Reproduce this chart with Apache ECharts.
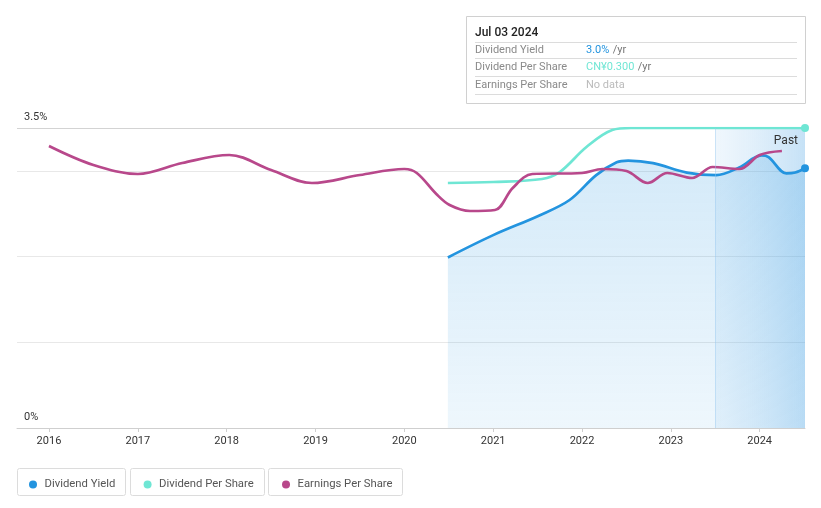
<!DOCTYPE html>
<html><head><meta charset="utf-8">
<script src="https://cdn.jsdelivr.net/npm/echarts@6/dist/echarts.min.js"></script>
<style>html,body{margin:0;padding:0;background:#fff}#c{width:821px;height:508px}</style>
</head><body><div id="c"></div>
<script>
// ---- data ----
const yearTicks = [2016, 2017, 2018, 2019, 2020, 2021, 2022, 2023, 2024];
const yLabelValues = [0, 3.5];
const xMin = 2015.64, xMax = 2024.51;
const pastStart = 2023.5;

const yieldDates  = [2020.49, 2021.0, 2021.52, 2021.86, 2022.16, 2022.39, 2022.52, 2022.8, 2023.18, 2023.51, 2023.77, 2024.02, 2024.1, 2024.3, 2024.4, 2024.51];
const yieldValues = [1.99, 2.25, 2.48, 2.66, 2.95, 3.10, 3.12, 3.09, 2.98, 2.95, 3.04, 3.18, 3.16, 2.97, 2.98, 3.03];

const dpsDates  = [2020.49, 2021.0, 2021.55, 2021.75, 2022.05, 2022.34, 2022.55, 2024.51];
const dpsValues = [0.245, 0.246, 0.249, 0.256, 0.281, 0.298, 0.300, 0.300];

const epsDates  = [2016.0, 2016.5, 2017.0, 2017.5, 2018.03, 2018.5, 2018.96, 2019.5, 2020.0, 2020.14, 2020.36, 2020.51, 2020.74, 2021.02, 2021.22, 2021.44, 2022.0, 2022.23, 2022.5, 2022.74, 2022.96, 2023.24, 2023.47, 2023.77, 2024.0, 2024.25];
const epsValues = [0.564, 0.526, 0.508, 0.530, 0.546, 0.516, 0.490, 0.506, 0.518, 0.510, 0.468, 0.446, 0.434, 0.436, 0.480, 0.508, 0.510, 0.518, 0.514, 0.490, 0.510, 0.500, 0.522, 0.518, 0.546, 0.554];

const seriesNames = ['Dividend Yield', 'Dividend Per Share', 'Earnings Per Share'];
const colors = ['#2394df', '#6fe6d4', '#b8488b'];

const zip = (a, b) => a.map((x, i) => [x, b[i]]);

const chart = echarts.init(document.getElementById('c'), null, {renderer: 'canvas'});
const FONT = 'Roboto';

const option = {
  animation: false,
  textStyle: {fontFamily: FONT},
  grid: {left: 17, right: 16, top: 128, bottom: 80, containLabel: false, outerBoundsMode: 'none'},
  legend: {
    data: seriesNames,
    left: 24, top: 474,
    icon: 'circle', itemWidth: 13, itemHeight: 8, itemGap: 28.3,
    selectedMode: false,
    textStyle: {color: '#555', fontSize: 11.3, fontFamily: FONT}
  },
  xAxis: {
    type: 'value', min: xMin, max: xMax,
    axisLine: {show: true, lineStyle: {color: '#cfcfcf', width: 1}},
    axisTick: {show: true, customValues: yearTicks, length: 4, lineStyle: {color: '#cfcfcf'}},
    axisLabel: {customValues: yearTicks, formatter: v => String(Math.round(v)), color: '#333', fontSize: 11, margin: 8, fontFamily: FONT},
    splitLine: {show: false}
  },
  yAxis: [
    {
      type: 'value', min: 0, max: 3.5, interval: 1,
      axisLine: {show: false}, axisTick: {show: false},
      axisLabel: {
        inside: true, customValues: yLabelValues,
        formatter: v => v + '%', verticalAlign: 'bottom', margin: 7,
        padding: [0, 0, 5, 0], color: '#333', fontSize: 11, fontFamily: FONT
      },
      splitLine: {show: true, lineStyle: {color: ['#e8e8e8', '#e8e8e8', '#e8e8e8', '#e8e8e8', '#d3d3d3'], width: 1}}
    },
    {type: 'value', min: 0, max: 0.3, show: false, splitLine: {show: false}},
    {type: 'value', min: 0, max: 0.6, show: false, splitLine: {show: false}}
  ],
  series: [
    {
      name: seriesNames[0], type: 'line', yAxisIndex: 0,
      data: zip(yieldDates, yieldValues),
      smooth: 0.35, symbol: 'none', z: 2,
      itemStyle: {color: colors[0]},
      lineStyle: {width: 2.7, color: colors[0]},
      areaStyle: {
        color: new echarts.graphic.LinearGradient(0, 0, 0, 1, [
          {offset: 0, color: 'rgba(35,148,223,0.28)'},
          {offset: 1, color: 'rgba(35,148,223,0.11)'}
        ])
      },
      markArea: {
        silent: true,
        itemStyle: {
          color: new echarts.graphic.LinearGradient(0, 0, 1, 0, [
            {offset: 0, color: 'rgba(170,210,242,0.18)'},
            {offset: 1, color: 'rgba(90,170,230,0.35)'}
          ])
        },
        label: {show: true, position: 'insideTopRight', distance: 7, color: '#333', fontSize: 12, fontFamily: FONT},
        data: [[{name: 'Past', xAxis: pastStart}, {xAxis: xMax}]]
      },
      markLine: {
        silent: true, symbol: 'none', label: {show: false},
        lineStyle: {color: 'rgba(150,200,240,0.45)', type: 'solid', width: 1},
        data: [{xAxis: pastStart}]
      },
      markPoint: {
        silent: true, symbol: 'circle', symbolSize: 8, label: {show: false},
        itemStyle: {color: colors[0]},
        data: [{coord: [yieldDates[yieldDates.length - 1], yieldValues[yieldValues.length - 1]]}]
      }
    },
    {
      name: seriesNames[1], type: 'line', yAxisIndex: 1,
      data: zip(dpsDates, dpsValues),
      smooth: 0.35, symbol: 'none', z: 3,
      itemStyle: {color: colors[1]},
      lineStyle: {width: 2.7, color: colors[1]},
      markPoint: {
        silent: true, symbol: 'circle', symbolSize: 8, label: {show: false},
        itemStyle: {color: colors[1]},
        data: [{coord: [dpsDates[dpsDates.length - 1], dpsValues[dpsValues.length - 1]]}]
      }
    },
    {
      name: seriesNames[2], type: 'line', yAxisIndex: 2,
      data: zip(epsDates, epsValues),
      smooth: 0.35, symbol: 'none', z: 4,
      itemStyle: {color: colors[2]},
      lineStyle: {width: 2.7, color: colors[2]}
    }
  ],
  graphic: [
    // legend boxes
    {type: 'rect', left: 17, top: 468, z: -1, shape: {width: 108, height: 27, r: 2}, style: {fill: '#fff', stroke: '#dcdcdc', lineWidth: 1}},
    {type: 'rect', left: 130, top: 468, z: -1, shape: {width: 134, height: 27, r: 2}, style: {fill: '#fff', stroke: '#dcdcdc', lineWidth: 1}},
    {type: 'rect', left: 268, top: 468, z: -1, shape: {width: 134, height: 27, r: 2}, style: {fill: '#fff', stroke: '#dcdcdc', lineWidth: 1}},
    // info box
    {
      type: 'group', left: 466, top: 16, z: 100,
      children: [
        {type: 'rect', shape: {x: 0.5, y: 0.5, width: 339, height: 87}, style: {fill: '#fff', stroke: '#d0d0d0', lineWidth: 1}},
        {type: 'text', x: 9, y: 17, style: {text: 'Jul 03 2024', fill: '#222', font: '500 12px Roboto', verticalAlign: 'middle'}},
        {type: 'line', shape: {x1: 9, y1: 26.5, x2: 331, y2: 26.5}, style: {stroke: '#dcdcdc', lineWidth: 1}},
        {type: 'text', x: 9, y: 34, style: {text: 'Dividend Yield', fill: '#8a8a8a', font: '11px Roboto', verticalAlign: 'middle'}},
        {type: 'text', x: 120, y: 34, style: {text: '{a|3.0%} {b|/yr}', verticalAlign: 'middle', rich: {a: {fill: '#2394df', font: '11px Roboto'}, b: {fill: '#777', font: '11px Roboto'}}}},
        {type: 'line', shape: {x1: 9, y1: 42.5, x2: 331, y2: 42.5}, style: {stroke: '#dcdcdc', lineWidth: 1}},
        {type: 'text', x: 9, y: 51, style: {text: 'Dividend Per Share', fill: '#8a8a8a', font: '11px Roboto', verticalAlign: 'middle'}},
        {type: 'text', x: 120, y: 51, style: {text: '{a|CN¥0.300} {b|/yr}', verticalAlign: 'middle', rich: {a: {fill: '#6fe6d4', font: '11px Roboto'}, b: {fill: '#777', font: '11px Roboto'}}}},
        {type: 'line', shape: {x1: 9, y1: 60.5, x2: 331, y2: 60.5}, style: {stroke: '#dcdcdc', lineWidth: 1}},
        {type: 'text', x: 9, y: 69, style: {text: 'Earnings Per Share', fill: '#8a8a8a', font: '11px Roboto', verticalAlign: 'middle'}},
        {type: 'text', x: 120, y: 69, style: {text: 'No data', fill: '#bbbbbb', font: '11px Roboto', verticalAlign: 'middle'}},
        {type: 'line', shape: {x1: 9, y1: 78.5, x2: 331, y2: 78.5}, style: {stroke: '#dcdcdc', lineWidth: 1}}
      ]
    }
  ]
};
chart.setOption(option);
</script>
</body></html>
